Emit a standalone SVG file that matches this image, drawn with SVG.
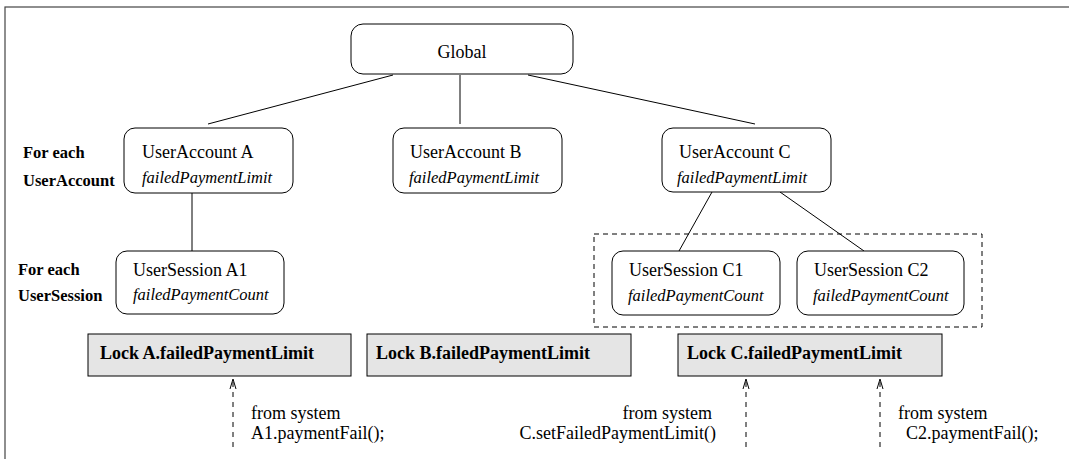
<svg xmlns="http://www.w3.org/2000/svg" width="1069" height="459" viewBox="0 0 1069 459">
<style>
text { font-family: "Liberation Serif", "Times New Roman", serif; fill: #000; }
.t { font-size: 18px; }
.i { font-size: 16.5px; font-style: italic; }
.b { font-size: 18px; font-weight: bold; }
.lb { font-size: 16.5px; font-weight: bold; }
.node { fill: #fff; stroke: #000; stroke-width: 1; }
.lock { fill: #e5e5e5; stroke: #000; stroke-width: 1; }
.edge { stroke: #000; stroke-width: 1; fill: none; }
.dash { stroke: #000; stroke-width: 1; fill: none; stroke-dasharray: 5,5; }
</style>
<defs>
<marker id="open" markerWidth="10" markerHeight="12" refX="5" refY="1" orient="0" markerUnits="userSpaceOnUse">
<path d="M2,11 L5,1 L8,11" fill="none" stroke="#000" stroke-width="1"/>
</marker>
</defs>
<rect x="5" y="7" width="1080" height="470" fill="none" stroke="#444" stroke-width="1.2"/>

<g id="labels">
<text class="lb" x="23" y="158">For each</text>
<text class="lb" x="23" y="186">UserAccount</text>
<text class="lb" x="18" y="275">For each</text>
<text class="lb" x="18" y="301">UserSession</text>
</g>

<g id="connectors">
<line class="edge" x1="393" y1="75" x2="208" y2="124"/>
<line class="edge" x1="460" y1="75" x2="460" y2="124"/>
<line class="edge" x1="528" y1="75" x2="755" y2="124"/>
<line class="edge" x1="192" y1="193" x2="192" y2="251"/>
<line class="edge" x1="712" y1="192" x2="679" y2="251"/>
<line class="edge" x1="780" y1="192" x2="864" y2="251"/>
<line class="dash" x1="233" y1="447" x2="233" y2="379" marker-end="url(#open)"/>
<line class="dash" x1="746" y1="447" x2="746" y2="379" marker-end="url(#open)"/>
<line class="dash" x1="880" y1="447" x2="880" y2="379" marker-end="url(#open)"/>
</g>

<g id="sessionGroupC">
<rect x="594" y="234" width="388" height="93" fill="none" stroke="#000" stroke-width="1" stroke-dasharray="5,4"/>
</g>

<g id="global">
<rect class="node" x="351" y="24" width="222" height="50" rx="12"/>
<text class="t" x="462" y="58" text-anchor="middle">Global</text>
</g>

<g id="accountA">
<rect class="node" x="124" y="128" width="169" height="65" rx="11"/>
<text class="t" x="142" y="158">UserAccount A</text>
<text class="i" x="142" y="183">failedPaymentLimit</text>
</g>
<g id="accountB">
<rect class="node" x="393" y="128" width="169" height="65" rx="11"/>
<text class="t" x="410" y="158">UserAccount B</text>
<text class="i" x="409" y="183">failedPaymentLimit</text>
</g>
<g id="accountC">
<rect class="node" x="662" y="128" width="169" height="64" rx="11"/>
<text class="t" x="679" y="158">UserAccount C</text>
<text class="i" x="677" y="183">failedPaymentLimit</text>
</g>

<g id="sessionA1">
<rect class="node" x="116" y="251" width="168" height="63" rx="11"/>
<text class="t" x="133" y="276">UserSession A1</text>
<text class="i" x="133" y="300">failedPaymentCount</text>
</g>
<g id="sessionC1">
<rect class="node" x="612" y="251" width="168" height="64" rx="11"/>
<text class="t" x="629" y="276">UserSession C1</text>
<text class="i" x="628" y="301">failedPaymentCount</text>
</g>
<g id="sessionC2">
<rect class="node" x="797" y="251" width="167" height="64" rx="11"/>
<text class="t" x="814" y="276">UserSession C2</text>
<text class="i" x="813" y="301">failedPaymentCount</text>
</g>

<g id="lockA">
<rect class="lock" x="88" y="334" width="263" height="42"/>
<text class="b" x="100" y="359">Lock A.failedPaymentLimit</text>
</g>
<g id="lockB">
<rect class="lock" x="367" y="334" width="264" height="42"/>
<text class="b" x="376" y="359">Lock B.failedPaymentLimit</text>
</g>
<g id="lockC">
<rect class="lock" x="678" y="334" width="264" height="42"/>
<text class="b" x="687" y="359">Lock C.failedPaymentLimit</text>
</g>

<g id="sourceA1">
<text class="t" x="251" y="419">from system</text>
<text class="t" x="251" y="439">A1.paymentFail();</text>
</g>
<g id="sourceC">
<text class="t" x="712" y="419" text-anchor="end">from system</text>
<text class="t" x="716" y="439" text-anchor="end">C.setFailedPaymentLimit()</text>
</g>
<g id="sourceC2">
<text class="t" x="898" y="419">from system</text>
<text class="t" x="906" y="439">C2.paymentFail();</text>
</g>
</svg>
